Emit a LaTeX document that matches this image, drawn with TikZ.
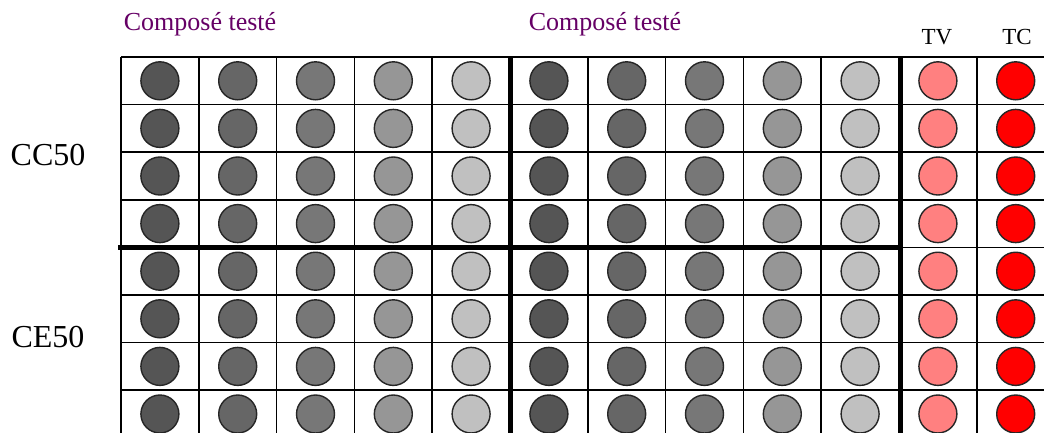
\documentclass[tikz,border=0pt]{standalone}
\usepackage{fontspec}
\setmainfont{Liberation Serif}
\usetikzlibrary{positioning}
\definecolor{plum}{RGB}{102,0,102}
\definecolor{wellA}{RGB}{85,85,85}
\definecolor{wellB}{RGB}{102,102,102}
\definecolor{wellC}{RGB}{119,119,119}
\definecolor{wellD}{RGB}{150,150,150}
\definecolor{wellE}{RGB}{192,192,192}
\definecolor{wellTV}{RGB}{255,128,128}
\definecolor{wellTC}{RGB}{255,0,0}

\begin{document}
\begin{tikzpicture}[x=1pt, y=-1pt, line join=round,
    head/.style={text=plum, font=\fontsize{26}{28}\selectfont},
    ctrl/.style={font=\fontsize{23}{25}\selectfont},
    side/.style={font=\fontsize{32}{34}\selectfont}]
          \useasboundingbox (0,0) rectangle (1044,432);
          \clip (0,0) rectangle (1044,432);
          \fill[white] (0,0) rectangle (1044,432);
          % wells
          \foreach \col/\shade in {0/wellA,1/wellB,2/wellC,3/wellD,4/wellE,5/wellA,6/wellB,7/wellC,8/wellD,9/wellE,10/wellTV,11/wellTC}{
            \foreach \row in {0,...,7}{
              \fill[\shade, draw=black!85, line width=1.4pt] ({121+77.8*(\col+0.5)},{57+47.6*(\row+0.5)}) circle (19pt);
            }
          }
          % grid
          \foreach \i in {0,...,12}{ \draw[line width=1.5pt] ({121+77.8*\i},57) -- ({121+77.8*\i},440);}
          \foreach \j in {1,...,8}{ \draw[line width=1.5pt] (121,{57+47.6*\j}) -- (1060,{57+47.6*\j});}
          \draw[line width=2pt] (121,57) -- (1060,57);
          \draw[line width=5pt] (510,57) -- (510,440);
          \draw[line width=5pt] (900,57) -- (900,440);
          \draw[line width=5pt] (118,247.5) -- (900,247.5);
          % labels
          \node[head] (cmpA) at (200,24) {Composé testé};
          \node[head] (cmpB) at (605,24) {Composé testé};
          \node[ctrl] (tv) at (937,37) {TV};
          \node[ctrl] (tc) at (1017,37) {TC};
          \node[side] (cc) at (48,155) {CC50};
          \node[side] (ce) at (48,337) {CE50};
        \end{tikzpicture}
\end{document}
